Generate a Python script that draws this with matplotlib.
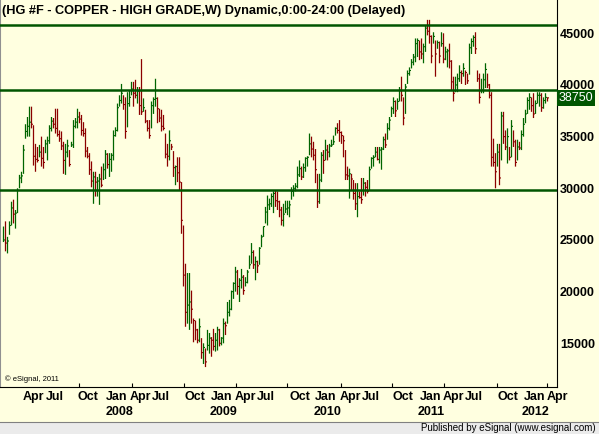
import numpy as np
import matplotlib.pyplot as plt
from matplotlib.patches import Rectangle
from matplotlib.lines import Line2D
from matplotlib.transforms import blended_transform_factory

plt.rcParams["font.family"] = ["Liberation Sans", "DejaVu Sans"]

# --------------------------------------------------
# Weekly copper bars (cents / lb, chart shows x100)
# --------------------------------------------------
high = [
    263, 268, 253, 268, 287, 289, 279, 300, 313, 316,
    342, 362, 369, 379, 379, 361, 343, 340, 342, 350,
    340, 347, 350, 361, 369, 368, 377, 377, 356, 355,
    345, 343, 347, 337, 345, 366, 368, 377, 374, 371,
    364, 358, 340, 334, 326, 316, 316, 311, 314,
    321, 324, 337, 334, 334, 334, 356, 359, 382, 390,
    401, 390, 388, 393, 395, 403, 403, 405, 398, 398,
    425, 387, 376, 366, 366, 384, 388, 406, 388, 377,
    376, 371, 353, 343, 356, 343, 336, 322, 330, 330,
    306, 264, 227, 218, 218,
    201, 174, 172, 164, 174, 155, 150, 145, 163, 160,
    156, 164, 160, 166, 164, 156, 174, 171, 190, 192,
    201, 209, 224, 221, 213, 222, 216, 214, 221, 235,
    247, 240, 234, 230, 243, 255, 263, 282, 293, 290,
    295, 297, 298, 297, 288, 282, 285, 288, 288,
    288, 301, 303, 305, 321, 327, 321, 324, 330, 331,
    353, 350, 345, 338, 314, 314, 335, 337, 347, 342,
    343, 347, 351, 359, 363, 366, 355, 351, 337, 321,
    319, 314, 308, 305, 305, 297, 310, 310, 306, 308,
    321, 330, 332, 340, 340, 340, 340, 350, 353,
    363, 369, 379, 388, 385, 387, 398, 408, 388, 401,
    414, 417, 425, 430, 445, 445, 443, 445, 440, 458,
    463, 463, 448, 451, 443, 443, 442, 451, 450, 437,
    435, 440, 424, 408, 408, 411, 419, 414, 421, 414,
    411, 440, 445, 448, 451, 414, 411,
    406, 411, 421, 411, 401, 393, 348, 334, 343, 343,
    374, 374, 356, 358, 340, 366, 356, 347, 347, 345,
    356, 368, 376, 388, 392, 388, 392, 385, 393, 393,
    392, 388, 392, 388,
]
low = [
    248, 239, 237, 255, 264, 266, 261, 276, 300, 305,
    314, 348, 350, 350, 358, 322, 316, 325, 330, 321,
    319, 334, 327, 343, 355, 358, 353, 350, 345, 337,
    314, 313, 330, 321, 340, 339, 358, 358, 363, 351,
    350, 330, 329, 313, 301, 285, 292, 292, 284,
    301, 308, 309, 319, 311, 316, 327, 350, 355, 379,
    382, 376, 348, 359, 379, 390, 379, 387, 382, 371,
    371, 374, 363, 355, 348, 358, 372, 379, 363, 364,
    355, 356, 329, 321, 327, 337, 311, 303, 306, 298,
    256, 205, 166, 169, 163,
    169, 151, 153, 150, 151, 135, 130, 127, 143, 140,
    137, 143, 142, 143, 147, 148, 150, 158, 169, 176,
    182, 193, 200, 197, 190, 203, 197, 205, 208, 222,
    227, 222, 211, 218, 226, 243, 253, 266, 264, 279,
    282, 276, 282, 279, 272, 264, 263, 276, 274,
    272, 289, 292, 297, 300, 311, 308, 310, 316, 321,
    332, 330, 327, 305, 281, 285, 306, 314, 327, 327,
    330, 340, 342, 351, 353, 345, 343, 330, 308, 308,
    290, 298, 289, 279, 272, 290, 285, 293, 292, 295,
    298, 319, 321, 330, 327, 324, 318, 337, 339,
    347, 356, 369, 372, 369, 376, 384, 384, 361, 372,
    401, 409, 416, 419, 422, 427, 424, 425, 421, 432,
    448, 440, 421, 440, 408, 435, 421, 437, 421, 424,
    417, 416, 395, 384, 393, 393, 403, 401, 408, 400,
    401, 410, 430, 437, 430, 403, 382,
    392, 392, 397, 397, 387, 321, 321, 300, 321, 303,
    327, 343, 337, 324, 327, 330, 340, 321, 327, 337,
    337, 350, 363, 372, 376, 374, 368, 372, 382, 379,
    374, 377, 382, 384,
]
close = [
    250, 247, 249, 264, 281, 275, 276, 298, 310, 312,
    337, 355, 360, 364, 362, 331, 328, 327, 335, 329,
    325, 343, 346, 358, 365, 362, 358, 352, 348, 341,
    327, 335, 341, 323, 342, 360, 364, 369, 367, 356,
    353, 336, 331, 318, 307, 311, 306, 307, 309,
    303, 318, 333, 323, 328, 332, 351, 356, 378, 385,
    392, 381, 355, 382, 388, 396, 392, 390, 394, 380,
    374, 378, 365, 358, 351, 380, 386, 387, 377, 368,
    360, 358, 333, 331, 346, 340, 320, 321, 315, 306,
    269, 216, 180, 187, 190,
    183, 172, 163, 153, 166, 141, 146, 132, 148, 155,
    153, 147, 153, 163, 150, 155, 169, 167, 180, 183,
    200, 208, 219, 205, 211, 214, 201, 209, 219, 226,
    238, 226, 229, 225, 242, 253, 263, 277, 284, 285,
    292, 295, 288, 287, 279, 269, 275, 280, 281,
    284, 297, 300, 302, 313, 319, 311, 320, 329, 330,
    343, 338, 332, 318, 287, 308, 332, 327, 337, 335,
    341, 342, 345, 358, 356, 354, 351, 346, 313, 312,
    314, 309, 295, 285, 292, 291, 289, 305, 301, 297,
    318, 329, 330, 335, 328, 337, 338, 347, 342,
    358, 366, 377, 384, 375, 384, 395, 390, 368, 398,
    411, 414, 422, 427, 440, 443, 432, 430, 437, 455,
    452, 447, 428, 447, 430, 441, 428, 440, 425, 432,
    433, 423, 403, 392, 400, 406, 412, 411, 416, 412,
    404, 436, 442, 446, 435, 406, 388,
    395, 405, 415, 400, 390, 330, 325, 316, 335, 310,
    370, 350, 340, 350, 330, 360, 345, 325, 340, 339,
    352, 362, 372, 385, 388, 380, 372, 382, 390, 390,
    378, 385, 388, 387.5,
]

# support / resistance lines (cents / lb)
levels = [457.7, 394.9, 298.2]

# x labels, placed by bar number
quarter_labels = ["Apr", "Jul", "Oct", "Jan", "Apr", "Jul", "Oct", "Jan", "Apr", "Jul",
                  "Oct", "Jan", "Apr", "Jul", "Oct", "Jan", "Apr", "Jul", "Oct", "Jan", "Apr"]
quarter_at = [15.0, 25.5, 42.3, 56.8, 68.7, 78.7, 95.5, 109.1, 120.8, 131.3,
              148.0, 160.9, 173.3, 183.8, 199.5, 213.4, 224.9, 235.4, 252.1, 265.5, 277.0]
year_labels = ["2008", "2009", "2010", "2011", "2012"]
year_at = [58.2, 110.1, 161.8, 213.6, 265.9]
half_year_ticks = [37.6, 64.4, 90.2, 116.0, 141.8, 168.5, 194.3, 220.0, 246.8, 271.7]

BG = "#ffffe0"
UP = "#006400"
DOWN = "#8b0000"
LEVEL = "#005500"

h = np.array(high) * 100
l = np.array(low) * 100
c = np.array(close) * 100
x = np.arange(len(c))
up = np.r_[True, c[1:] >= c[:-1]]
colors = np.where(up, UP, DOWN)

W, H = 599, 434
fig = plt.figure(figsize=(W / 100, H / 100), dpi=100, facecolor=BG)
ax = fig.add_axes([0, 47 / H, 557 / W, 387 / H])
ax.set_facecolor(BG)

# --------------------------------------------------
# Bars + levels
# --------------------------------------------------
ax.vlines(x, l, h, colors=colors, linewidth=0.9, snap=False)
ax.hlines(c, x, x + 0.75, colors=colors, linewidth=0.8, snap=False)
for lv in levels:
    ax.axhline(lv * 100, color=LEVEL, linewidth=1.8, zorder=3)

ax.set_xlim(-1.75, 276.75)
ax.set_ylim(10772, 48222)

ax.spines["top"].set_visible(False)
ax.spines["left"].set_color("#909090")
ax.spines["left"].set_linewidth(1.5)
ax.spines["right"].set_color("black")
ax.spines["right"].set_linewidth(0.8)
ax.spines["bottom"].set_color("black")
ax.spines["bottom"].set_linewidth(0.8)

ax.yaxis.tick_right()
ax.set_yticks(range(15000, 45001, 5000))
ax.tick_params(axis="y", length=0, pad=2, labelsize=9)
for t in ax.get_yticklabels():
    t.set_fontweight("bold")

ax.set_xticks(half_year_ticks)
ax.set_xticklabels([])
ax.tick_params(axis="x", length=3, direction="in", width=0.8)

tr = blended_transform_factory(ax.transData, ax.transAxes)
for lab, pos in zip(quarter_labels, quarter_at):
    ax.text(pos, -10 / 387, lab, transform=tr, ha="center", va="center",
            fontsize=9, fontweight="bold", clip_on=False)
for lab, pos in zip(year_labels, year_at):
    ax.text(pos, -25 / 387, lab, transform=tr, ha="center", va="center",
            fontsize=9, fontweight="bold", clip_on=False)

# last price box
tr2 = blended_transform_factory(ax.transAxes, ax.transData)
ax.text(1.0 + 2 / 557, c[-1], f"{c[-1]:.0f}", transform=tr2, ha="left", va="center",
        color="white", fontsize=9, clip_on=False,
        bbox=dict(facecolor=LEVEL, edgecolor="none", pad=1.2))

ax.text(5 / 557, 8 / 387, "\u00a9 eSignal, 2011", transform=ax.transAxes,
        fontsize=5.5, va="center", ha="left")

# title
fig.text(2 / W, 1 - 11 / H, "(HG #F - COPPER - HIGH GRADE,W) Dynamic,0:00-24:00 (Delayed)",
         fontsize=9.2, fontweight="bold", va="center", ha="left")

# footer strip
fig.add_artist(Rectangle((0, 0), 1, 12 / H, transform=fig.transFigure,
                         facecolor="#ebebeb", edgecolor="none"))
fig.add_artist(Line2D([0, 1], [12 / H, 12 / H], transform=fig.transFigure,
                      color="#808080", linewidth=0.8))
fig.text(1 - 3 / W, 6 / H, "Published by eSignal (www.esignal.com)", fontsize=7,
         ha="right", va="center")

fig.savefig("out.png", dpi=100, facecolor=BG)
